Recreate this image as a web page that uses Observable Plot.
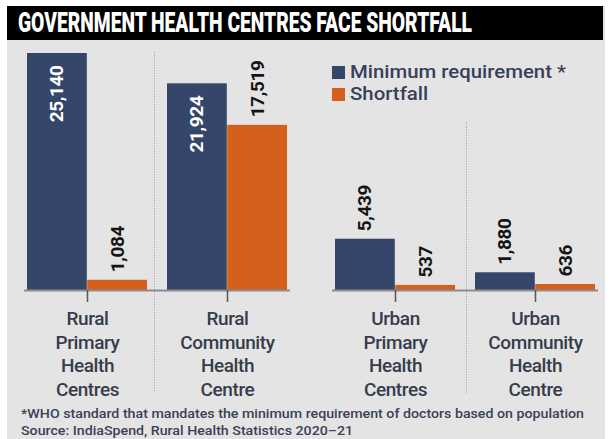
<!DOCTYPE html>
<html>
<head>
<meta charset="utf-8">
<script src="https://cdn.jsdelivr.net/npm/d3@7"></script>
<script src="https://cdn.jsdelivr.net/npm/@observablehq/plot@0.6"></script>
<style>
  html, body { margin: 0; padding: 0; background: #fff; width: 611px; height: 439px; overflow: hidden; font-family: Roboto, "Noto Sans", sans-serif; }
  #panel { position: absolute; left: 7px; top: 6px; width: 598px; height: 433px; background: #e4e4e4; }
  #title { position: absolute; left: 7px; top: 6px; width: 596px; height: 34px; background: #000; overflow: hidden; }
  #title span { position: absolute; left: 11px; top: 0; line-height: 34px; color: #fff; font-weight: 900; font-size: 28px; white-space: nowrap; transform-origin: 0 50%; }
  .plotbox { position: absolute; top: 40px; }
  .plotbox svg text { letter-spacing: -0.4px; }
  #legend { position: absolute; left: 332px; top: 61px; font-size: 19px; font-weight: 500; color: #38405a; line-height: 22px; }
  #legend .row { white-space: nowrap; display: flex; align-items: center; }
  #legend .sw { display: inline-block; width: 13px; height: 13px; margin-right: 5px; }
  #legend .lab { display: inline-block; transform-origin: 0 50%; }
  #foot { position: absolute; left: 21px; top: 405px; font-size: 13px; font-weight: 500; color: #3c4058; line-height: 17px; }
  #foot div { white-space: nowrap; transform-origin: 0 50%; display: table; }
</style>
</head>
<body>
<div id="panel"></div>
<div id="title"><span>GOVERNMENT HEALTH CENTRES FACE SHORTFALL</span></div>
<div id="rural" class="plotbox" style="left:0px;width:305px"></div>
<div id="urban" class="plotbox" style="left:305px;width:306px"></div>
<div id="legend"></div>
<div id="foot"></div>
<script>
// ---- data ----
const categories = ["Rural Primary Health Centres", "Rural Community Health Centre", "Urban Primary Health Centres", "Urban Community Health Centre"];
const groups = ["Rural", "Rural", "Urban", "Urban"];
const tickLabels = ["Rural\nPrimary\nHealth\nCentres", "Rural\nCommunity\nHealth\nCentre", "Urban\nPrimary\nHealth\nCentres", "Urban\nCommunity\nHealth\nCentre"];
const minimumRequirement = [25140, 21924, 5439, 1880];
const shortfall = [1084, 17519, 537, 636];
const seriesNames = ["Minimum requirement *", "Shortfall"];
const seriesColors = ["#36466a", "#d4601b"];
const titleText = "GOVERNMENT HEALTH CENTRES FACE SHORTFALL";
const footnote = "*WHO standard that mandates the minimum requirement of doctors based on population";
const source = "Source: IndiaSpend, Rural Health Statistics 2020\u201321";

const rows = [];
categories.forEach((c, i) => {
  rows.push({category: c, group: groups[i], series: seriesNames[0], value: minimumRequirement[i]});
  rows.push({category: c, group: groups[i], series: seriesNames[1], value: shortfall[i]});
});
const yMax = d3.max(rows, d => d.value);
const fmt = d3.format(",");
const insideThreshold = 20000;

function groupPlot(group, o) {
  const cats = categories.filter((c, i) => groups[i] === group);
  const g = rows.filter(d => d.group === group);
  const mins = g.filter(d => d.series === seriesNames[0]);
  const shorts = g.filter(d => d.series === seriesNames[1]);
  const half = 60.2, quarter = 30.1;
  const labelStyle = {fontSize: 19, fontWeight: 700, rotate: -90};
  return Plot.plot({
    width: o.width, height: 370,
    marginLeft: o.ml, marginRight: o.mr, marginTop: 13, marginBottom: 120,
    style: {background: "transparent", overflow: "visible", fontFamily: "Roboto, 'Noto Sans', sans-serif"},
    x: {domain: cats, paddingInner: 0.14, paddingOuter: 0.02},
    y: {domain: [0, yMax], axis: null},
    marks: [
      Plot.ruleX([cats[1]], {x: d => d, dx: o.sepDx, stroke: "#9c9c9c", strokeWidth: 1, strokeDasharray: "1,1.6", insetTop: o.sepTop, insetBottom: -103}),
      Plot.barY(mins, {x: "category", y: "value", fill: seriesColors[0], insetRight: half}),
      Plot.barY(shorts, {x: "category", y: "value", fill: seriesColors[1], insetLeft: half}),
      Plot.ruleY([0], {stroke: "#8c8c8c", strokeWidth: 2}),
      Plot.axisX({tickSize: 12, tickFormat: () => "", stroke: "#555", strokeWidth: 1.5, label: null}),
      Plot.text(cats, {x: d => d, text: d => tickLabels[categories.indexOf(d)], frameAnchor: "bottom", lineAnchor: "top", dy: 18, lineHeight: 1.24, fontSize: 19, fontWeight: 500, fill: "#363c4b"}),
      Plot.text(mins.filter(d => d.value > insideThreshold), {x: "category", y: "value", text: d => fmt(d.value), ...labelStyle, dx: -quarter, dy: 12, textAnchor: "end", fill: "#fff"}),
      Plot.text(mins.filter(d => d.value <= insideThreshold), {x: "category", y: "value", text: d => fmt(d.value), ...labelStyle, dx: -quarter, dy: -8, textAnchor: "start", fill: "#151515"}),
      Plot.text(shorts, {x: "category", y: "value", text: d => fmt(d.value), ...labelStyle, dx: quarter, dy: -8, textAnchor: "start", fill: "#151515"})
    ]
  });
}

document.getElementById("rural").append(groupPlot("Rural", {width: 305, ml: 24, mr: 15, sepDx: -73, sepTop: -1}));
document.getElementById("urban").append(groupPlot("Urban", {width: 306, ml: 27, mr: 13, sepDx: -69, sepTop: 69}));

// legend
const legend = document.getElementById("legend");
seriesNames.forEach((s, i) => {
  const row = document.createElement("div");
  row.className = "row";
  row.innerHTML = `<span class="sw" style="background:${seriesColors[i]}"></span><span class="lab">${s}</span>`;
  legend.append(row);
});

// footnote
const foot = document.getElementById("foot");
[footnote, source].forEach(t => { const d = document.createElement("div"); d.textContent = t; foot.append(d); });

// title
const tspan = document.querySelector("#title span");
tspan.textContent = titleText;

function fitWidth(el, target) {
  const w = el.getBoundingClientRect().width;
  if (w > 0) el.style.transform = `scaleX(${target / w})`;
}
fitWidth(tspan, 454);
const labs = legend.querySelectorAll(".lab");
fitWidth(labs[0], 216);
labs[1].style.transform = labs[0].style.transform;
const fl = foot.querySelectorAll("div");
fitWidth(fl[0], 563);
fl[1].style.transform = fl[0].style.transform;
</script>
</body>
</html>
